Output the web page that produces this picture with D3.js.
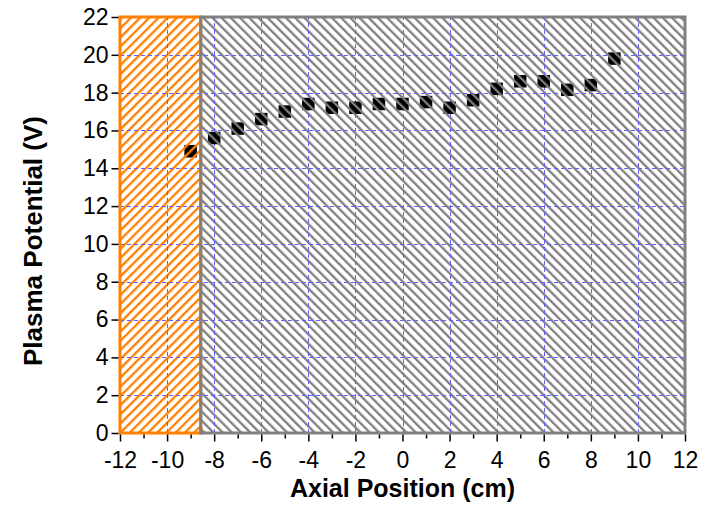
<!DOCTYPE html>
<html lang="en">
<head>
  <meta charset="UTF-8">
  <title>Plasma Potential vs Axial Position</title>
  <script src="https://d3js.org/d3.v7.min.js"></script>
  <style>
    body { margin: 0; background: #fff; }
    svg { display: block; font-family: "Liberation Sans", Arial, sans-serif; }
  </style>
</head>
<body>
  <div id="chart"></div>
  <script>
    // data
    const axialPos = [-9, -8, -7, -6, -5, -4, -3, -2, -1, 0, 1, 2, 3, 4, 5, 6, 7, 8, 9];
    const potential = [14.9, 15.6, 16.1, 16.6, 17.0, 17.4, 17.2, 17.2, 17.4, 17.4, 17.5, 17.2, 17.6, 18.2, 18.6, 18.6, 18.15, 18.4, 19.8];
    const xMajor = [-12, -10, -8, -6, -4, -2, 0, 2, 4, 6, 8, 10, 12];
    const xMinor = [-11, -9, -7, -5, -3, -1, 1, 3, 5, 7, 9, 11];
    const yMajor = [0, 2, 4, 6, 8, 10, 12, 14, 16, 18, 20, 22];
    const sourceEdge = -8.57; // edge between the orange and gray shaded zones

    const width = 702, height = 506;
    const svg = d3.select("#chart").append("svg")
      .attr("width", width)
      .attr("height", height);

    const x = d3.scaleLinear().domain([-12, 12]).range([120, 685]);
    const y = d3.scaleLinear().domain([0, 22]).range([433, 17]);

    // hatch patterns
    const defs = svg.append("defs");
    function hatch(id, bg, color, angle) {
      const p = defs.append("pattern")
        .attr("id", id)
        .attr("patternUnits", "userSpaceOnUse")
        .attr("width", 6.5)
        .attr("height", 10)
        .attr("patternTransform", `rotate(${angle})`);
      if (bg) p.append("rect").attr("width", 6.5).attr("height", 10).attr("fill", bg);
      p.append("rect").attr("x", 0).attr("width", 2.3).attr("height", 10).attr("fill", color);
    }
    hatch("grayHatch", null, "#808080", -45);
    hatch("orangeHatch", null, "#ff8000", 45);
    hatch("grayOnBlack", "#000", "#808080", -45);
    hatch("orangeOnBlack", "#000", "#ff8000", 45);

    // background
    svg.append("rect")
      .attr("x", x(-12)).attr("y", y(22))
      .attr("width", x(12) - x(-12)).attr("height", y(0) - y(22))
      .attr("fill", "#fff");

    // shaded zones
    svg.append("rect")
      .attr("x", x(-12)).attr("y", y(22))
      .attr("width", x(sourceEdge) - x(-12)).attr("height", y(0) - y(22))
      .attr("fill", "url(#orangeHatch)");
    svg.append("rect")
      .attr("x", x(sourceEdge)).attr("y", y(22))
      .attr("width", x(12) - x(sourceEdge)).attr("height", y(0) - y(22))
      .attr("fill", "url(#grayHatch)");

    // grid
    const grid = svg.append("g")
      .attr("stroke", "#6060ff")
      .attr("stroke-width", 1)
      .attr("stroke-dasharray", "4,3");
    grid.selectAll(".gx")
      .data(xMajor.slice(1, -1))
      .enter().append("line")
      .attr("x1", d => Math.round(x(d)) + 0.5).attr("x2", d => Math.round(x(d)) + 0.5)
      .attr("y1", y(0)).attr("y2", y(22));
    grid.selectAll(".gy")
      .data(yMajor.slice(1, -1))
      .enter().append("line")
      .attr("y1", d => Math.round(y(d)) + 0.5).attr("y2", d => Math.round(y(d)) + 0.5)
      .attr("x1", x(-12)).attr("x2", x(12));

    // zone borders
    svg.append("rect")
      .attr("x", x(-12)).attr("y", y(22))
      .attr("width", x(sourceEdge) - x(-12)).attr("height", y(0) - y(22))
      .attr("fill", "none").attr("stroke", "#ff8000").attr("stroke-width", 3);
    svg.append("rect")
      .attr("x", x(sourceEdge)).attr("y", y(22))
      .attr("width", x(12) - x(sourceEdge)).attr("height", y(0) - y(22))
      .attr("fill", "none").attr("stroke", "#808080").attr("stroke-width", 3);

    // data points
    const s = 12.5;
    svg.selectAll(".pt")
      .data(axialPos)
      .enter().append("rect")
      .attr("x", d => x(d) - s / 2)
      .attr("y", (d, i) => y(potential[i]) - s / 2)
      .attr("width", s).attr("height", s)
      .attr("fill", d => d < sourceEdge ? "url(#orangeOnBlack)" : "url(#grayOnBlack)");

    // axes
    const fmt = d => String(d); // plain hyphen minus, as in the original
    svg.append("g")
      .attr("transform", `translate(0,${y(0) + 1.5})`)
      .call(d3.axisBottom(x).tickValues(xMajor).tickSize(7).tickPadding(10).tickFormat(fmt));
    svg.append("g")
      .attr("transform", `translate(0,${y(0) + 1.5})`)
      .call(d3.axisBottom(x).tickValues(xMinor).tickSize(4).tickFormat(""));
    svg.append("g")
      .attr("transform", `translate(${x(-12) - 1.5},0)`)
      .call(d3.axisLeft(y).tickValues(yMajor).tickSize(7).tickPadding(3).tickFormat(fmt));

    svg.selectAll(".domain").remove();
    svg.selectAll(".tick line").attr("stroke", "#000").attr("stroke-width", 1.5);
    svg.selectAll(".tick text")
      .attr("font-size", 23)
      .attr("font-family", "Liberation Sans, Arial, sans-serif")
      .attr("fill", "#000");

    // axis titles
    svg.append("text")
      .attr("x", x(0))
      .attr("y", 497)
      .attr("text-anchor", "middle")
      .attr("font-size", 25)
      .attr("font-weight", "bold")
      .text("Axial Position (cm)");
    svg.append("text")
      .attr("transform", `translate(42,241) rotate(-90)`)
      .attr("text-anchor", "middle")
      .attr("font-size", 26)
      .attr("font-weight", "bold")
      .text("Plasma Potential (V)");
  </script>
</body>
</html>
